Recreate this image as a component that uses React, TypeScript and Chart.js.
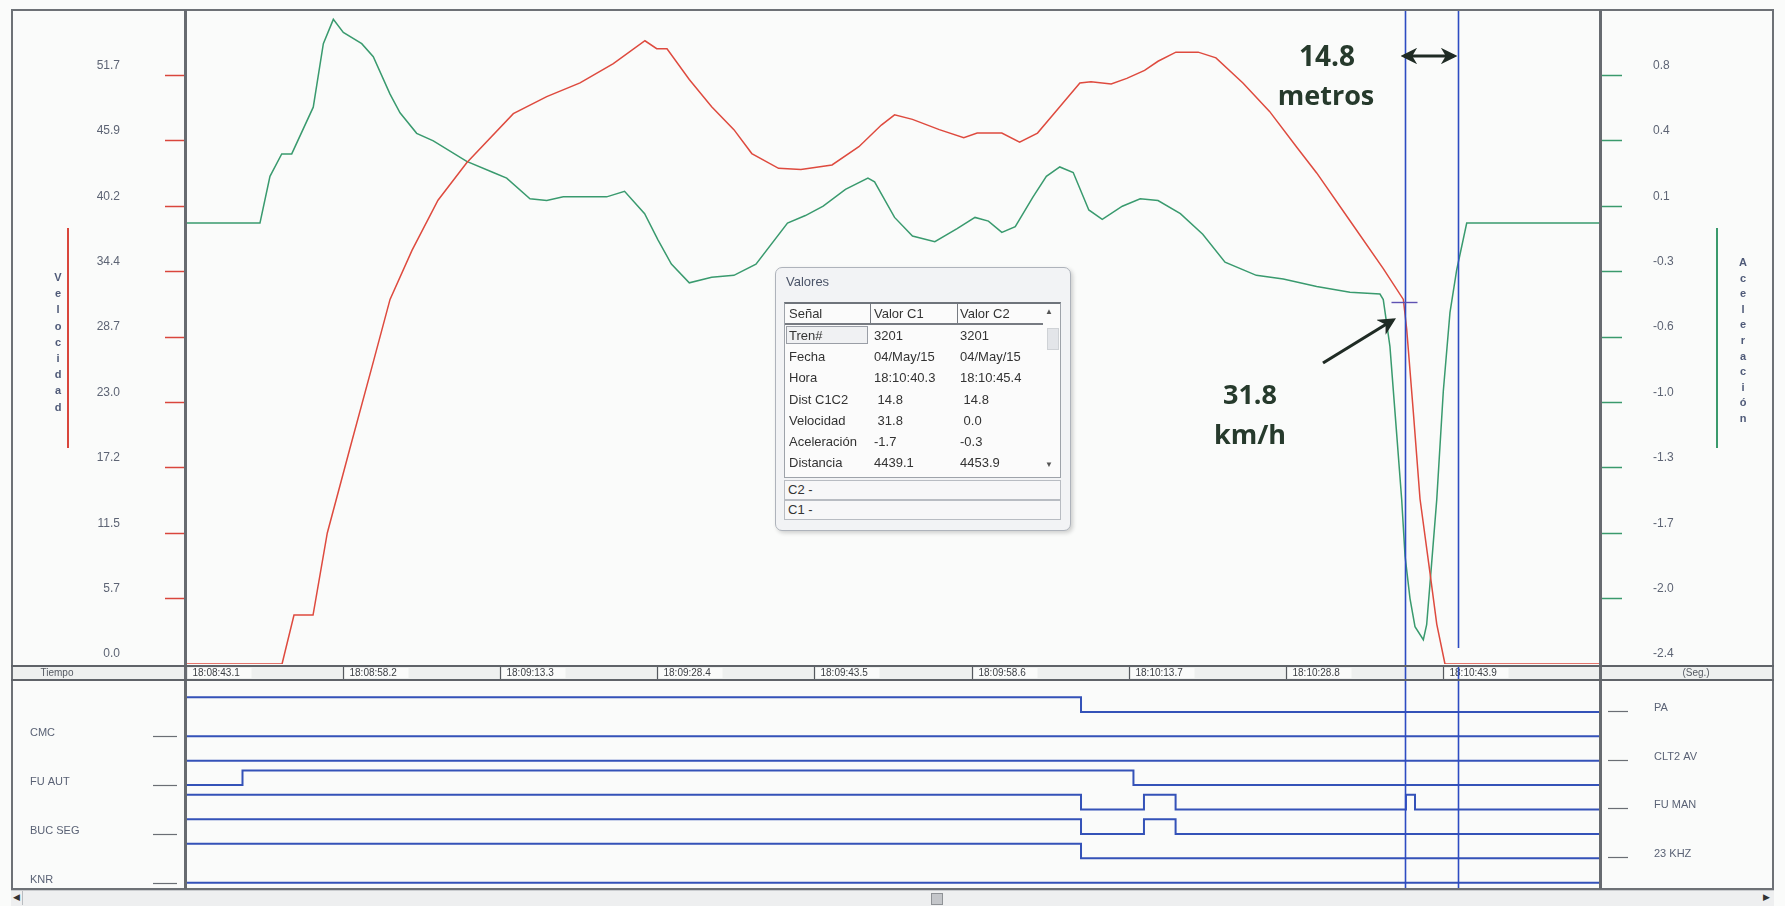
import React, { useEffect, useRef } from "react";
import { Chart, registerables } from "chart.js";

Chart.register(...registerables);

const FONT = '"Liberation Sans", Arial, Helvetica, sans-serif';

// ---------- time axis (seconds after 18:08:43.1) ----------
const timeMin = 0;
const timeMax = 135.9;
const timeTickValues = [0, 15.1, 30.2, 45.3, 60.4, 75.5, 90.6, 105.7, 120.8];
const timeTickLabels = [
  "18:08:43.1", "18:08:58.2", "18:09:13.3", "18:09:28.4", "18:09:43.5",
  "18:09:58.6", "18:10:13.7", "18:10:28.8", "18:10:43.9",
];

// ---------- analog axes ----------
const velMax = 57.4;
const velTickValues = [0, 5.74, 11.48, 17.22, 22.96, 28.7, 34.44, 40.18, 45.92, 51.66];
const velTickLabels = ["0.0", "5.7", "11.5", "17.2", "23.0", "28.7", "34.4", "40.2", "45.9", "51.7"];
const accMin = -2.4;
const accMax = 1.1;
const accTickValues = [-2.4, -2.05, -1.7, -1.35, -1.0, -0.65, -0.3, 0.05, 0.4, 0.75];
const accTickLabels = ["-2.4", "-2.0", "-1.7", "-1.3", "-1.0", "-0.6", "-0.3", "0.1", "0.4", "0.8"];

// ---------- Velocidad (km/h) ----------
const velTime = [0, 9.23, 10.38, 12.21, 13.58, 15.72, 17.88, 19.61, 21.72, 24.22, 26.98, 31.46, 34.67, 37.87, 41.07, 44.11, 45.24, 46.23, 48.37, 50.52, 52.66, 54.38, 56.95, 59.1, 62.09, 64.67, 66.83, 68.1, 69.82, 72.4, 74.75, 76.04, 78.41, 80.12, 81.84, 83.98, 85.91, 86.98, 88.92, 90.42, 92.13, 93.42, 95.14, 97.28, 98.99, 101.58, 104.14, 106.72, 108.67, 111.87, 115.07, 117.0, 117.32, 117.96, 118.6, 119.56, 120.21, 121.0, 135.9];
const velValues = [0, 0, 4.3, 4.3, 11.5, 18.8, 26.1, 32.0, 36.3, 40.7, 44.0, 48.3, 49.8, 51.0, 52.7, 54.7, 54.0, 54.0, 51.3, 48.9, 46.9, 44.8, 43.5, 43.4, 43.8, 45.4, 47.3, 48.2, 47.8, 46.9, 46.2, 46.6, 46.6, 45.8, 46.6, 48.9, 51.0, 51.1, 50.9, 51.4, 52.1, 52.9, 53.7, 53.7, 53.2, 51.0, 48.5, 45.4, 43.1, 38.9, 34.7, 32.0, 29.4, 22.1, 14.5, 8.0, 3.5, 0, 0];

// ---------- Aceleración ----------
const accTime = [0, 7.11, 8.07, 9.2, 10.16, 12.23, 13.2, 14.16, 15.12, 16.89, 18.0, 19.61, 20.57, 22.17, 23.77, 26.98, 29.53, 30.82, 33.06, 34.67, 36.26, 40.43, 42.15, 44.08, 45.36, 46.65, 48.37, 50.52, 52.66, 54.78, 57.81, 59.53, 61.24, 63.38, 65.54, 66.18, 68.1, 69.82, 71.97, 74.11, 75.83, 77.12, 78.41, 79.7, 81.41, 82.69, 83.98, 85.27, 86.77, 88.06, 89.99, 91.71, 93.42, 95.57, 97.72, 99.86, 102.87, 105.46, 108.67, 111.87, 114.75, 115.07, 115.71, 116.36, 116.84, 117.16, 117.64, 118.12, 118.92, 119.24, 119.72, 120.21, 120.84, 121.48, 122.13, 123.09, 135.9];
const accValues = [-0.04, -0.04, 0.21, 0.33, 0.33, 0.58, 0.92, 1.05, 0.98, 0.92, 0.85, 0.65, 0.55, 0.44, 0.4, 0.29, 0.23, 0.2, 0.09, 0.08, 0.1, 0.1, 0.13, 0.01, -0.13, -0.26, -0.36, -0.33, -0.32, -0.26, -0.04, 0.0, 0.05, 0.14, 0.2, 0.18, -0.01, -0.11, -0.14, -0.07, -0.01, -0.03, -0.09, -0.06, 0.1, 0.21, 0.26, 0.23, 0.03, -0.02, 0.05, 0.09, 0.08, 0.01, -0.1, -0.25, -0.32, -0.34, -0.38, -0.41, -0.42, -0.45, -0.7, -1.17, -1.52, -1.82, -2.05, -2.2, -2.27, -2.19, -1.86, -1.52, -0.94, -0.52, -0.29, -0.04, -0.04];

// ---------- digital signals (1 = high, 0 = low) ----------
const signalNames = ["PA", "CMC", "CLT2 AV", "FU AUT", "FU MAN", "BUC SEG", "23 KHZ", "KNR"];
const paTime = [0, 86.02, 135.9];
const paState = [1, 0, 0];
const cmcTime = [0, 135.9];
const cmcState = [0, 0];
const clt2Time = [0, 135.9];
const clt2State = [0, 0];
const fuAutTime = [0, 5.43, 91.06, 135.9];
const fuAutState = [0, 1, 0, 0];
const fuManTime = [0, 86.02, 92.07, 95.11, 117.25, 118.12, 135.9];
const fuManState = [1, 0, 1, 0, 1, 0, 0];
const bucSegTime = [0, 86.02, 92.07, 95.11, 135.9];
const bucSegState = [1, 0, 1, 0, 0];
const khzTime = [0, 86.02, 135.9];
const khzState = [1, 0, 0];
const knrTime = [0, 135.9];
const knrState = [0, 0];

// ---------- cursors ----------
const cursorTimes = [117.2, 122.3];
const cursorSpeed = 31.8;

// ---------- Valores table ----------
const valoresSignals = ["Tren#", "Fecha", "Hora", "Dist C1C2", "Velocidad", "Aceleración", "Distancia"];
const valoresC1 = ["3201", "04/May/15", "18:10:40.3", " 14.8", " 31.8", "-1.7", "4439.1"];
const valoresC2 = ["3201", "04/May/15", "18:10:45.4", " 14.8", " 0.0", "-0.3", "4453.9"];

const lanes: [number[], number[]][] = [
  [paTime, paState],
  [cmcTime, cmcState],
  [clt2Time, clt2State],
  [fuAutTime, fuAutState],
  [fuManTime, fuManState],
  [bucSegTime, bucSegState],
  [khzTime, khzState],
  [knrTime, knrState],
];

const CURSOR_COLOR = "#2d4cc2";

const upperPlugin = {
  id: "upperCursors",
  afterDatasetsDraw(chart: any) {
    const { ctx, chartArea, scales } = chart;
    const xs = scales.x;
    const c1 = Math.round(xs.getPixelForValue(cursorTimes[0])) + 0.5;
    const c2 = Math.round(xs.getPixelForValue(cursorTimes[1])) + 0.5;
    ctx.save();
    ctx.strokeStyle = CURSOR_COLOR;
    ctx.lineWidth = 1.6;
    ctx.beginPath();
    ctx.moveTo(c1, chartArea.top - 2);
    ctx.lineTo(c1, chart.height);
    ctx.moveTo(c2, chartArea.top - 2);
    ctx.lineTo(c2, chartArea.bottom - 16);
    ctx.stroke();
    const ym = Math.round(scales.yV.getPixelForValue(cursorSpeed)) + 0.5;
    ctx.strokeStyle = "#5e52b2";
    ctx.lineWidth = 1.4;
    ctx.beginPath();
    ctx.moveTo(c1 - 14, ym);
    ctx.lineTo(c1 + 12, ym);
    ctx.stroke();
    ctx.restore();
  },
};

const lowerPlugin = {
  id: "lowerDecor",
  beforeDatasetsDraw(chart: any) {
    const { ctx, chartArea, scales, width } = chart;
    const xs = scales.x;
    const sb = chartArea.top;
    ctx.save();
    ctx.fillStyle = "#eef0ef";
    ctx.fillRect(0, 1, width, sb - 1);
    ctx.font = `10px ${FONT}`;
    ctx.textBaseline = "middle";
    timeTickValues.forEach((v, i) => {
      const px = Math.round(xs.getPixelForValue(v)) + 0.5;
      ctx.fillStyle = "#fafbfa";
      ctx.fillRect(px + 1, 3, 64, sb - 5);
      ctx.strokeStyle = "#55595e";
      ctx.lineWidth = 1.2;
      ctx.beginPath();
      ctx.moveTo(px, 1);
      ctx.lineTo(px, sb);
      ctx.stroke();
      ctx.fillStyle = "#3c3f44";
      ctx.textAlign = "left";
      ctx.fillText(timeTickLabels[i], px + 6, sb / 2 + 1);
    });
    ctx.textAlign = "center";
    ctx.fillStyle = "#555a62";
    ctx.fillText("Tiempo", 46, sb / 2 + 1);
    ctx.fillText("(Seg.)", chartArea.right + 96, sb / 2 + 1);
    ctx.restore();
  },
  afterDatasetsDraw(chart: any) {
    const { ctx, chartArea, scales } = chart;
    const xs = scales.x;
    const ys = scales.y;
    ctx.save();
    ctx.strokeStyle = CURSOR_COLOR;
    ctx.lineWidth = 1.6;
    cursorTimes.forEach((t) => {
      const px = Math.round(xs.getPixelForValue(t)) + 0.5;
      ctx.beginPath();
      ctx.moveTo(px, 0);
      ctx.lineTo(px, chartArea.bottom);
      ctx.stroke();
    });
    ctx.font = `11px ${FONT}`;
    ctx.textBaseline = "middle";
    signalNames.forEach((name, i) => {
      const low = Math.round(ys.getPixelForValue(7 - i)) + 0.5;
      ctx.strokeStyle = "#6a6e74";
      ctx.lineWidth = 1.2;
      ctx.fillStyle = "#5a6275";
      ctx.beginPath();
      if (i % 2 === 1) {
        ctx.moveTo(chartArea.left - 33, low);
        ctx.lineTo(chartArea.left - 9, low);
        ctx.stroke();
        ctx.textAlign = "left";
        ctx.fillText(name, 19, low - 4);
      } else {
        ctx.moveTo(chartArea.right + 8, low - 1);
        ctx.lineTo(chartArea.right + 28, low - 1);
        ctx.stroke();
        ctx.textAlign = "left";
        ctx.fillText(name, chartArea.right + 54, low - 5);
      }
    });
    ctx.restore();
  },
};

function UpperChart() {
  const ref = useRef<HTMLCanvasElement>(null);
  useEffect(() => {
    const chart = new Chart(ref.current as HTMLCanvasElement, {
      type: "line",
      data: {
        datasets: [
          {
            label: "Velocidad",
            data: velTime.map((t, i) => ({ x: t, y: velValues[i] })),
            yAxisID: "yV",
            borderColor: "#de4a3e",
            borderWidth: 1.5,
            pointRadius: 0,
            tension: 0,
          },
          {
            label: "Aceleración",
            data: accTime.map((t, i) => ({ x: t, y: accValues[i] })),
            yAxisID: "yA",
            borderColor: "#399a6e",
            borderWidth: 1.5,
            pointRadius: 0,
            tension: 0,
          },
        ],
      },
      options: {
        animation: false,
        responsive: false,
        events: [],
        layout: { padding: { left: 0, right: 0, top: 0, bottom: 6 }, autoPadding: false },
        plugins: { legend: { display: false }, tooltip: { enabled: false } },
        scales: {
          x: { type: "linear", min: timeMin, max: timeMax, display: false },
          yV: {
            type: "linear",
            position: "left",
            min: 0,
            max: velMax,
            afterFit: (s: any) => {
              s.width = 175;
              s.paddingTop = 0;
              s.paddingBottom = 0;
            },
            afterBuildTicks: (s: any) => {
              s.ticks = velTickValues.map((v) => ({ value: v }));
            },
            ticks: {
              autoSkip: false,
              callback: (_v: any, i: number) => velTickLabels[i],
              color: "#5d6474",
              font: { size: 12, family: FONT },
              padding: 45,
              labelOffset: -10,
            },
            grid: {
              drawOnChartArea: false,
              drawTicks: true,
              tickLength: 21,
              tickWidth: 1.5,
              tickColor: (c: any) => (c.index === 0 ? "rgba(0,0,0,0)" : "#d9463c"),
            },
            border: { display: false },
          },
          yA: {
            type: "linear",
            position: "right",
            min: accMin,
            max: accMax,
            afterFit: (s: any) => {
              s.width = 174;
              s.paddingTop = 0;
              s.paddingBottom = 0;
            },
            afterBuildTicks: (s: any) => {
              s.ticks = accTickValues.map((v) => ({ value: v }));
            },
            ticks: {
              autoSkip: false,
              callback: (_v: any, i: number) => accTickLabels[i],
              color: "#5d6474",
              font: { size: 12, family: FONT },
              padding: 31,
              labelOffset: -10,
            },
            grid: {
              drawOnChartArea: false,
              drawTicks: true,
              tickLength: 22,
              tickWidth: 1.5,
              tickColor: (c: any) => (c.index === 0 ? "rgba(0,0,0,0)" : "#3a9a6c"),
            },
            border: { display: false },
          },
        },
      } as any,
      plugins: [upperPlugin],
    });
    return () => chart.destroy();
  }, []);
  return (
    <canvas
      ref={ref}
      width={1763}
      height={660}
      style={{ position: "absolute", left: 11, top: 10, width: 1763, height: 660, display: "block" }}
    />
  );
}

function LowerChart() {
  const ref = useRef<HTMLCanvasElement>(null);
  useEffect(() => {
    const chart = new Chart(ref.current as HTMLCanvasElement, {
      type: "line",
      data: {
        datasets: lanes.map(([t, s], i) => ({
          label: signalNames[i],
          data: t.map((tv, k) => ({ x: tv, y: 7 - i + 0.6 * s[k] })),
          stepped: "before",
          borderColor: "#3452b8",
          borderWidth: 2,
          pointRadius: 0,
          fill: false,
        })),
      },
      options: {
        animation: false,
        responsive: false,
        events: [],
        layout: { padding: { left: 175, right: 174, top: 15, bottom: 0 }, autoPadding: false },
        plugins: { legend: { display: false }, tooltip: { enabled: false } },
        scales: {
          x: { type: "linear", min: timeMin, max: timeMax, display: false },
          y: { type: "linear", min: -0.26, max: 8.31, display: false },
        },
      } as any,
      plugins: [lowerPlugin],
    });
    return () => chart.destroy();
  }, []);
  return (
    <canvas
      ref={ref}
      width={1763}
      height={224}
      style={{ position: "absolute", left: 11, top: 665, width: 1763, height: 224, display: "block" }}
    />
  );
}

function VerticalWord({ word, left, top, step }: { word: string; left: number; top: number; step: number }) {
  return (
    <div style={{ position: "absolute", left: left - 8, top, width: 16 }}>
      {word.split("").map((ch, i) => (
        <div
          key={i}
          style={{
            height: step,
            lineHeight: `${step}px`,
            textAlign: "center",
            fontSize: 11,
            fontWeight: 700,
            color: "#4f5a78",
            fontFamily: FONT,
          }}
        >
          {ch}
        </div>
      ))}
    </div>
  );
}

function Valores() {
  const rowH = 21.2;
  return (
    <div
      style={{
        position: "absolute",
        left: 775,
        top: 267,
        width: 296,
        height: 264,
        boxSizing: "border-box",
        border: "1px solid #aeb3bb",
        borderRadius: 7,
        background: "#f2f3f5",
        boxShadow: "2px 2px 4px rgba(0,0,0,0.18)",
        fontFamily: FONT,
        color: "#333",
        fontSize: 13,
      }}
    >
      <div style={{ position: "absolute", left: 10, top: 6, color: "#4b5468", fontSize: 13 }}>Valores</div>
      <div
        style={{
          position: "absolute",
          left: 8,
          top: 34,
          width: 277,
          height: 176,
          boxSizing: "border-box",
          border: "1px solid #9ea3aa",
          borderTop: "2px solid #6f747b",
          background: "#fbfbfb",
          overflow: "hidden",
        }}
      >
        <div style={{ position: "absolute", left: 0, top: 0, width: 258, height: 19, borderBottom: "2px solid #777b82" }} />
        <div style={{ position: "absolute", left: 85, top: 0, width: 1, height: 19, background: "#777b82" }} />
        <div style={{ position: "absolute", left: 172, top: 0, width: 1, height: 19, background: "#777b82" }} />
        <div style={{ position: "absolute", left: 4, top: 2 }}>Señal</div>
        <div style={{ position: "absolute", left: 89, top: 2 }}>Valor C1</div>
        <div style={{ position: "absolute", left: 175, top: 2 }}>Valor C2</div>
        <div style={{ position: "absolute", left: 260, top: 3, fontSize: 8, color: "#555" }}>▲</div>
        <div style={{ position: "absolute", left: 262, top: 24, width: 10, height: 20, background: "#e3e5e9", border: "1px solid #cfd2d6" }} />
        <div style={{ position: "absolute", left: 260, top: 156, fontSize: 8, color: "#555" }}>▼</div>
        <div
          style={{
            position: "absolute",
            left: 1,
            top: 22,
            width: 82,
            height: 18,
            border: "1px solid #9a9ea6",
            boxSizing: "border-box",
            background: "#f0f1f3",
          }}
        />
        {valoresSignals.map((name, i) => (
          <React.Fragment key={name}>
            <div style={{ position: "absolute", left: 4, top: 24 + i * rowH, whiteSpace: "pre" }}>{name}</div>
            <div style={{ position: "absolute", left: 89, top: 24 + i * rowH, whiteSpace: "pre" }}>{valoresC1[i]}</div>
            <div style={{ position: "absolute", left: 175, top: 24 + i * rowH, whiteSpace: "pre" }}>{valoresC2[i]}</div>
          </React.Fragment>
        ))}
      </div>
      <div
        style={{
          position: "absolute",
          left: 8,
          top: 212,
          width: 277,
          height: 20,
          boxSizing: "border-box",
          border: "1px solid #b8bcc2",
          background: "#f7f7f8",
          paddingLeft: 3,
          lineHeight: "18px",
        }}
      >
        C2 -
      </div>
      <div
        style={{
          position: "absolute",
          left: 8,
          top: 232,
          width: 277,
          height: 20,
          boxSizing: "border-box",
          border: "1px solid #b8bcc2",
          background: "#f7f7f8",
          paddingLeft: 3,
          lineHeight: "18px",
        }}
      >
        C1 -
      </div>
    </div>
  );
}

const annoStyle: any = {
  position: "absolute",
  width: 140,
  textAlign: "center",
  fontFamily: '"Open Sans", sans-serif',
  fontWeight: 700,
  fontSize: 27,
  lineHeight: "27px",
  color: "#263a2c",
};

export default function App() {
  return (
    <div
      style={{
        position: "fixed",
        left: 0,
        top: 0,
        width: 1785,
        height: 906,
        background: "#fafbfa",
        overflow: "hidden",
        fontFamily: FONT,
      }}
    >
      <UpperChart />
      <LowerChart />

      {/* window frame */}
      <div style={{ position: "absolute", left: 11, top: 9, width: 1763, height: 881, border: "2px solid #6d7176", boxSizing: "border-box" }} />
      <div style={{ position: "absolute", left: 184, top: 10, width: 3, height: 879, background: "#676b70" }} />
      <div style={{ position: "absolute", left: 1599, top: 10, width: 3, height: 879, background: "#676b70" }} />
      <div style={{ position: "absolute", left: 11, top: 665, width: 1763, height: 2, background: "#5f6368" }} />
      <div style={{ position: "absolute", left: 11, top: 679, width: 1763, height: 2, background: "#5f6368" }} />

      {/* axis titles */}
      <div style={{ position: "absolute", left: 67, top: 228, width: 2, height: 220, background: "#d9463c" }} />
      <VerticalWord word="Velocidad" left={58} top={269} step={16.2} />
      <div style={{ position: "absolute", left: 1716, top: 228, width: 2, height: 220, background: "#3a9a6c" }} />
      <VerticalWord word="Aceleración" left={1743} top={255} step={15.6} />

      <Valores />

      {/* annotations */}
      <div style={{ ...annoStyle, left: 1327 - 70, top: 42, fontSize: 28 }}>14.8</div>
      <div style={{ ...annoStyle, left: 1326 - 70, top: 81 }}>metros</div>
      <div style={{ ...annoStyle, left: 1250 - 70, top: 380 }}>31.8</div>
      <div style={{ ...annoStyle, left: 1250 - 70, top: 420 }}>km/h</div>
      <svg width={1785} height={906} style={{ position: "absolute", left: 0, top: 0, pointerEvents: "none" }}>
        <defs>
          <marker id="ah" viewBox="0 0 10 10" refX="8" refY="5" markerWidth="5.5" markerHeight="5.5" orient="auto-start-reverse">
            <path d="M0,0 L10,5 L0,10 L3,5 z" fill="#1f2b24" />
          </marker>
        </defs>
        <line x1={1404} y1={56} x2={1454} y2={56} stroke="#1f2b24" strokeWidth={3} markerStart="url(#ah)" markerEnd="url(#ah)" />
        <line x1={1323} y1={363} x2={1393} y2={320} stroke="#1f2b24" strokeWidth={3.2} markerEnd="url(#ah)" />
      </svg>

      {/* scrollbar */}
      <div style={{ position: "absolute", left: 11, top: 890, width: 1763, height: 16, background: "#eeeff0", borderTop: "1px solid #c9cbce", boxSizing: "border-box" }} />
      <div style={{ position: "absolute", left: 22, top: 891, width: 1, height: 14, background: "#b9bcc0" }} />
      <div style={{ position: "absolute", left: 13, top: 892, fontSize: 9, color: "#333" }}>◀</div>
      <div style={{ position: "absolute", left: 1763, top: 892, fontSize: 9, color: "#333" }}>▶</div>
      <div style={{ position: "absolute", left: 931, top: 893, width: 12, height: 12, background: "#c4c6ca", border: "1px solid #8f9296", boxSizing: "border-box" }} />
    </div>
  );
}
